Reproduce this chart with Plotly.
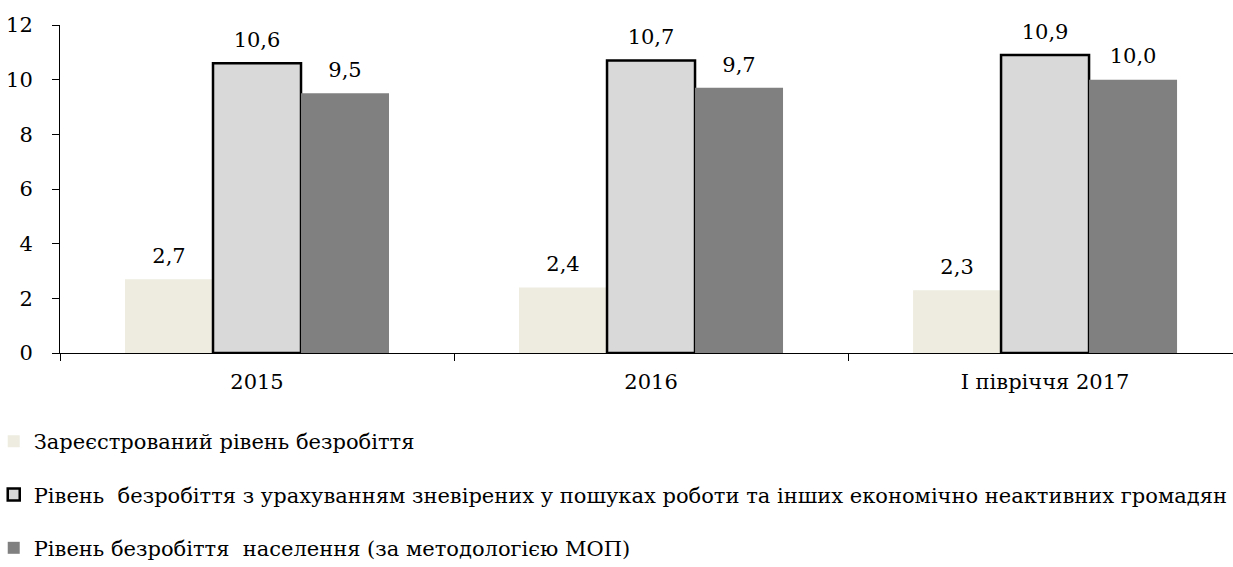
import plotly.graph_objects as go

categories = ["2015", "2016", "І півріччя 2017"]
registered = [2.7, 2.4, 2.3]
with_discouraged = [10.6, 10.7, 10.9]
ilo = [9.5, 9.7, 10.0]

names = [
    "Зареєстрований рівень безробіття",
    "Рівень  безробіття з урахуванням зневірених у пошуках роботи та інших економічно неактивних громадян",
    "Рівень безробіття  населення (за методологією МОП)",
]
series = [registered, with_discouraged, ilo]
colors = ["#EEECE1", "#D9D9D9", "#808080"]
line_widths = [0, 2.5, 0]

FONT = "DejaVu Serif"
FS = 21

fig = go.Figure()
for i, (vals, name, col, lw) in enumerate(zip(series, names, colors, line_widths)):
    fig.add_trace(go.Bar(
        x=categories, y=vals, name=name,
        marker=dict(color=col, line=dict(color="#000000", width=lw)),
        legendgroup=f"g{i}", offsetgroup=f"o{i}",
        hoverinfo="skip",
    ))
for i, vals in enumerate(series):
    fig.add_trace(go.Scatter(
        x=categories, y=vals, mode="markers+text",
        text=[f"{v:.1f}".replace(".", ",") for v in vals],
        textposition="top center",
        textfont=dict(family=FONT, size=FS, color="#000000"),
        marker=dict(size=16, color="rgba(0,0,0,0)"),
        offsetgroup=f"o{i}", showlegend=False, hoverinfo="skip",
        cliponaxis=False,
    ))

fig.update_layout(
    width=1233, height=567,
    margin=dict(l=60, r=0, t=25, b=214, autoexpand=False),
    paper_bgcolor="white", plot_bgcolor="white",
    barmode="group", bargap=0.33, bargroupgap=0,
    scattermode="group", scattergap=0.33,
    font=dict(family=FONT, size=FS, color="#000000"),
    showlegend=True,
    legend=dict(
        orientation="v", xref="paper", yref="container",
        x=-0.0565, xanchor="left", y=0.2574, yanchor="top",
        font=dict(family=FONT, size=FS, color="#000000"),
        tracegroupgap=23, bgcolor="rgba(0,0,0,0)",
    ),
    xaxis=dict(
        type="category", range=[-0.5, 2.477], automargin=False,
        showline=True, linecolor="#000000", linewidth=1,
        ticks="outside", tickson="boundaries", ticklen=7, tickcolor="#000000",
        showgrid=False, zeroline=False,
        ticklabelstandoff=10,
        tickfont=dict(family=FONT, size=FS, color="#000000"),
    ),
    yaxis=dict(
        range=[0, 12], dtick=2, tick0=0, automargin=False,
        showline=True, linecolor="#000000", linewidth=1,
        ticks="outside", ticklen=7, tickcolor="#000000",
        showgrid=False, zeroline=False,
        ticklabelstandoff=15,
        tickfont=dict(family=FONT, size=FS, color="#000000"),
    ),
)

fig.write_html("out.html", config={"displayModeBar": False},
               post_script="document.body.style.margin='0';")
